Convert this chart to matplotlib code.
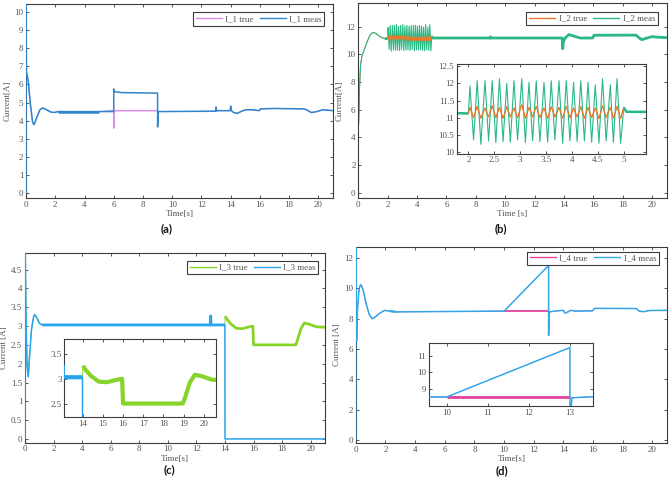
import numpy as np
import matplotlib
matplotlib.use('Agg')
import matplotlib.pyplot as plt
from matplotlib.ticker import FuncFormatter
from matplotlib.lines import Line2D

plt.rcParams['font.family'] = ['Liberation Serif', 'DejaVu Serif']

# ---------------- data ----------------
# (a) I_1
t_a_meas = [0, 0, 0.03, 0.15, 0.3, 0.45, 0.55, 0.75, 0.95, 1.15, 1.4, 1.7, 1.95, 2.2, 5.0,
            6.0, 6.0, 6.05, 6.5, 8.99, 9.0, 9.0, 9.05, 12.98, 13.0, 13.03, 13.97, 14.0, 14.05,
            14.2, 14.45, 14.7, 15.0, 15.5, 15.95, 16.05, 17.0, 19.0, 19.2, 19.5, 19.8, 20.3, 21.0]
v_a_meas = [0, 10.5, 6.7, 6.2, 4.9, 3.9, 3.78, 4.2, 4.6, 4.7, 4.6, 4.47, 4.45, 4.5, 4.5,
            4.5, 5.75, 5.6, 5.55, 5.52, 5.52, 3.65, 4.5, 4.52, 4.75, 4.55, 4.55, 4.8, 4.55,
            4.45, 4.4, 4.5, 4.6, 4.6, 4.55, 4.65, 4.67, 4.65, 4.6, 4.45, 4.48, 4.6, 4.55]
t_a_true = [0, 0, 0.03, 0.15, 0.3, 0.45, 0.55, 0.75, 0.95, 1.15, 1.4, 1.7, 1.95, 2.2, 5.0,
            6.0, 6.0, 6.0, 6.05, 8.99, 9.0, 9.05, 12.98, 13.0, 13.03, 13.97, 14.0, 14.05,
            14.2, 14.45, 14.7, 15.0, 15.5, 15.95, 16.05, 17.0, 19.0, 19.2, 19.5, 19.8, 20.3, 21.0]
v_a_true = [0, 10.5, 6.7, 6.2, 4.9, 3.9, 3.78, 4.2, 4.6, 4.7, 4.6, 4.47, 4.45, 4.5, 4.5,
            4.58, 3.6, 4.58, 4.55, 4.55, 4.5, 4.5, 4.52, 4.75, 4.55, 4.55, 4.8, 4.55,
            4.45, 4.4, 4.5, 4.6, 4.6, 4.55, 4.65, 4.67, 4.65, 4.6, 4.45, 4.48, 4.6, 4.55]

# (b) I_2
t_b_pre = [0, 0, 0.02, 0.08, 0.15, 0.25, 0.4, 0.6, 0.8, 1.0, 1.2, 1.5, 1.8, 2.0]
v_b_pre = [0, 13.8, 5.0, 7.5, 9.2, 9.9, 10.3, 10.9, 11.4, 11.58, 11.5, 11.25, 11.13, 11.12]
t_b_peaks = [2.03, 2.17, 2.32, 2.46, 2.60, 2.74, 2.88, 3.03, 3.17, 3.31, 3.46, 3.60, 3.75,
             3.89, 4.03, 4.17, 4.31, 4.45, 4.59, 4.74, 4.87]
t_b_troughs = [2.10, 2.24, 2.39, 2.53, 2.67, 2.81, 2.95, 3.10, 3.24, 3.38, 3.53, 3.67, 3.82,
               3.96, 4.10, 4.24, 4.38, 4.52, 4.66, 4.80, 4.94]
meas_b_peaks = [11.93, 12.08, 12.08, 12.08, 12.14, 12.0, 12.08, 12.14, 12.03, 12.08, 12.03,
                12.08, 12.08, 12.08, 12.03, 12.08, 12.03, 11.96, 12.14, 11.96, 12.14]
meas_b_troughs = [10.35, 10.22, 10.32, 10.27, 10.3, 10.28, 10.35, 10.27, 10.32, 10.3, 10.28,
                  10.35, 10.25, 10.32, 10.3, 10.32, 10.28, 10.25, 10.32, 10.28, 10.25]
true_b_peaks = [11.3, 11.33, 11.28, 11.35, 11.3, 11.32, 11.28, 11.38, 11.3, 11.33, 11.28,
                11.32, 11.3, 11.33, 11.28, 11.32, 11.3, 11.28, 11.35, 11.3, 11.33]
true_b_troughs = [11.0, 10.98, 11.02, 11.0, 10.98, 11.02, 11.0, 10.98, 11.02, 11.0, 10.98,
                  11.02, 10.98, 11.0, 11.02, 10.98, 11.0, 10.97, 11.0, 10.98, 10.97]
t_b_post = [5.0, 5.05, 8.98, 9.0, 9.02, 13.88, 13.92, 13.96, 14.1, 14.35, 14.7, 15.1, 15.95,
            16.05, 18.9, 19.1, 19.3, 19.6, 20.0, 20.5, 21.0]
v_b_post = [11.3, 11.17, 11.17, 11.25, 11.17, 11.17, 10.4, 10.9, 11.2, 11.42, 11.3, 11.17,
            11.17, 11.37, 11.38, 11.2, 11.05, 11.15, 11.27, 11.22, 11.2]

# (c) I_3
t_c_meas = [0, 0, 0.02, 0.08, 0.15, 0.23, 0.3, 0.45, 0.6, 0.68, 0.85, 1.0, 1.2, 1.5, 12.98,
            13.0, 13.02, 13.99, 14.0, 21.0]
v_c_meas = [0, 5.0, 4.9, 3.0, 1.9, 1.65, 2.1, 2.9, 3.25, 3.31, 3.2, 3.08, 3.03, 3.03, 3.03,
            3.27, 3.03, 3.03, 0, 0]
t_c_true = [0, 0, 0.02, 0.08, 0.15, 0.23, 0.3, 0.45, 0.6, 0.68, 0.85, 1.0, 1.2, 1.5, 13.99,
            14.02, 14.1, 14.4, 14.8, 15.2, 15.6, 15.95, 16.0, 18.95, 19.05, 19.3, 19.55, 19.9,
            20.4, 21.0]
v_c_true = [0, 5.0, 4.9, 3.0, 1.9, 1.65, 2.1, 2.9, 3.25, 3.31, 3.2, 3.08, 3.03, 3.03, 3.03,
            3.26, 3.2, 3.06, 2.94, 2.93, 2.97, 3.0, 2.5, 2.5, 2.6, 2.92, 3.08, 3.05, 2.98, 2.97]

# (d) I_4
t_d_meas = [0, 0, 0.06, 0.12, 0.2, 0.28, 0.36, 0.5, 0.7, 0.9, 1.1, 1.3, 1.6, 1.95, 2.3, 2.7,
            10.0, 12.99, 13.0, 13.0, 13.05, 13.6, 14.0, 14.1, 14.25, 14.5, 14.8, 15.95, 16.1,
            18.9, 19.1, 19.4, 19.8, 21.0]
v_d_meas = [0, 12.8, 6.5, 8.6, 9.7, 10.15, 10.24, 9.9, 9.0, 8.3, 8.0, 8.1, 8.35, 8.55, 8.5,
            8.45, 8.5, 11.5, 11.5, 6.9, 8.45, 8.52, 8.55, 8.37, 8.42, 8.55, 8.5, 8.52, 8.68,
            8.67, 8.5, 8.46, 8.54, 8.55]
t_d_true = [0, 0, 0.06, 0.12, 0.2, 0.28, 0.36, 0.5, 0.7, 0.9, 1.1, 1.3, 1.6, 1.95, 2.3, 2.7,
            10.0, 13.0, 13.05, 13.6, 14.0, 14.1, 14.25, 14.5, 14.8, 15.95, 16.1,
            18.9, 19.1, 19.4, 19.8, 21.0]
v_d_true = [0, 12.8, 6.5, 8.6, 9.7, 10.15, 10.24, 9.9, 9.0, 8.3, 8.0, 8.1, 8.35, 8.55, 8.5,
            8.45, 8.5, 8.5, 8.45, 8.52, 8.55, 8.37, 8.42, 8.55, 8.5, 8.52, 8.68,
            8.67, 8.5, 8.46, 8.54, 8.55]

x_ticks_main = [0, 2, 4, 6, 8, 10, 12, 14, 16, 18, 20]

# ---------------- helpers ----------------
FRAME = '#3c3c3c'
TXT = '#555555'
fmt = FuncFormatter(lambda v, p: f'{v:g}')


def style_axes(ax, xlim, ylim, xticks, yticks, fs=6.5):
    ax.set_xlim(xlim)
    ax.set_ylim(ylim)
    ax.set_xticks(xticks)
    ax.set_yticks(yticks)
    ax.xaxis.set_major_formatter(fmt)
    ax.yaxis.set_major_formatter(fmt)
    ax.tick_params(direction='in', top=True, right=True, length=2.5, width=0.6,
                   colors=FRAME, labelcolor=TXT, labelsize=fs, pad=2)
    for s in ax.spines.values():
        s.set_color(FRAME)
        s.set_linewidth(0.8)


def draw(ax, t, v, color, lw, thick=(), zorder=2):
    t = np.asarray(t, float)
    v = np.asarray(v, float)
    ax.plot(t, v, color=color, lw=lw, zorder=zorder)
    for (a, b, w) in thick:
        m = (t >= a) & (t <= b)
        ax.plot(t[m], v[m], color=color, lw=w, zorder=zorder, solid_capstyle='butt')


def legend(ax, c_true, c_meas, lab_true, lab_meas, anchor):
    h = [Line2D([], [], color=c_true, lw=1.0), Line2D([], [], color=c_meas, lw=1.0)]
    lg = ax.legend(h, [lab_true, lab_meas], loc='upper right', bbox_to_anchor=anchor,
                   ncol=2, fontsize=6.5, frameon=True, fancybox=False, edgecolor=FRAME,
                   framealpha=1, borderaxespad=0, handlelength=2.9, handletextpad=0.35,
                   columnspacing=0.7, borderpad=0.3)
    lg.get_frame().set_linewidth(0.8)
    for tx in lg.get_texts():
        tx.set_color(TXT)


def interleave(t0, v0, tp, vp, tt, vt):
    t = [t0]
    v = [v0]
    for a, b, c, d in zip(tp, vp, tt, vt):
        t += [a, c]
        v += [b, d]
    return t, v


fig = plt.figure(figsize=(6.69, 4.80), dpi=100)

# ---------------- (a) ----------------
ca_true, ca_meas = '#d98ce6', '#2f86cc'
ax = fig.add_axes([0.0389, 0.5875, 0.4589, 0.4042])
draw(ax, t_a_true, v_a_true, ca_true, 0.7, thick=[(6.0, 9.0, 1.0)], zorder=2)
draw(ax, t_a_meas, v_a_meas, ca_meas, 1.1, thick=[(2.2, 5.0, 1.8)], zorder=3)
style_axes(ax, (0, 21), (-0.28, 10.45), x_ticks_main, list(range(0, 11)))
ax.set_xlabel('Time[s]', fontsize=6.5, color=TXT, labelpad=1)
ax.set_ylabel('Current[A]', fontsize=6.5, color=TXT, labelpad=2)
legend(ax, ca_true, ca_meas, 'I_1 true', 'I_1 meas', (0.972, 0.957))

# ---------------- (b) ----------------
cb_true, cb_meas = '#f0782a', '#2ab883'
t_osc, vm_osc = interleave(2.0, 11.12, t_b_peaks, meas_b_peaks, t_b_troughs, meas_b_troughs)
_, vt_osc = interleave(2.0, 11.12, t_b_peaks, true_b_peaks, t_b_troughs, true_b_troughs)
t_b = t_b_pre[:-1] + t_osc + t_b_post
v_b_meas = v_b_pre[:-1] + vm_osc + v_b_post
v_b_true = v_b_pre[:-1] + vt_osc + v_b_post
tb = np.asarray(t_b)
osc_mask = (tb >= 2.0) & (tb <= 5.0)


def draw_b(ax, lw_osc, band_lw):
    draw(ax, t_b, v_b_true, cb_true, 0.6, zorder=1)
    draw(ax, t_b, v_b_meas, cb_meas, lw_osc,
         thick=[(1.8, 2.0, band_lw), (5.0, 21.0, band_lw)], zorder=2)
    ax.plot(tb[osc_mask], np.asarray(v_b_true)[osc_mask], color=cb_true, lw=0.8, zorder=3)


ax = fig.add_axes([0.5356, 0.5875, 0.4610, 0.4063])
draw_b(ax, 0.8, 2.0)
style_axes(ax, (0, 21), (-0.38, 13.7), x_ticks_main, [0, 2, 4, 6, 8, 10, 12])
ax.set_xlabel('Time [s]', fontsize=6.5, color=TXT, labelpad=1)
ax.set_ylabel('Current[A]', fontsize=6.5, color=TXT, labelpad=2)
legend(ax, cb_true, cb_meas, 'I_2 true', 'I_2 meas', (0.971, 0.955))

axi = fig.add_axes([0.6831, 0.6802, 0.2818, 0.1865])
draw_b(axi, 0.8, 1.8)
style_axes(axi, (1.78, 5.42), (9.95, 12.57), [2, 2.5, 3, 3.5, 4, 4.5, 5],
           [10, 10.5, 11, 11.5, 12, 12.5])

# ---------------- (c) ----------------
cc_true, cc_meas = '#86d42a', '#27a4ec'


def draw_c(ax, band_lw):
    draw(ax, t_c_true, v_c_true, cc_true, 0.7, thick=[(14.0, 21.0, band_lw)], zorder=2)
    draw(ax, t_c_meas, v_c_meas, cc_meas, 1.1, thick=[(1.2, 13.99, band_lw)], zorder=3)


ax = fig.add_axes([0.0374, 0.0777, 0.4484, 0.3958])
draw_c(ax, 2.0)
style_axes(ax, (0, 21), (-0.1, 4.95), x_ticks_main,
           [0, 0.5, 1, 1.5, 2, 2.5, 3, 3.5, 4, 4.5])
ax.set_xlabel('Time[s]', fontsize=6.5, color=TXT, labelpad=1)
ax.set_ylabel('Current [A]', fontsize=6.5, color=TXT, labelpad=2)
legend(ax, cc_true, cc_meas, 'I_3 true', 'I_3 meas', (0.978, 0.958))

axi = fig.add_axes([0.0964, 0.1313, 0.2265, 0.1625])
draw_c(axi, 3.0)
style_axes(axi, (13.1, 20.6), (2.23, 3.8), [14, 15, 16, 17, 18, 19, 20], [2.5, 3, 3.5])

# ---------------- (d) ----------------
cd_true, cd_meas = '#e2459b', '#34a6e8'


def draw_d(ax, lw_true):
    draw(ax, t_d_true, v_d_true, cd_true, 0.6, thick=[(10.0, 13.0, lw_true)], zorder=2)
    draw(ax, t_d_meas, v_d_meas, cd_meas, 1.1, thick=[(2.3, 5.0, 1.6)], zorder=3)


ax = fig.add_axes([0.5317, 0.0765, 0.4658, 0.4096])
draw_d(ax, 1.2)
style_axes(ax, (0, 21), (-0.22, 12.75), x_ticks_main, [0, 2, 4, 6, 8, 10, 12])
ax.set_xlabel('Time[s]', fontsize=6.5, color=TXT, labelpad=1)
ax.set_ylabel('Current [A]', fontsize=6.5, color=TXT, labelpad=2)
legend(ax, cd_true, cd_meas, 'I_4 true', 'I_4 meas', (0.973, 0.975))

axi = fig.add_axes([0.6413, 0.1542, 0.2456, 0.1306])
draw_d(axi, 2.0)
style_axes(axi, (9.57, 13.57), (7.95, 11.77), [10, 11, 12, 13], [9, 10, 11])

# ---------------- panel letters ----------------
for x, y, s in [(0.2496, 0.523, '(a)'), (0.749, 0.523, '(b)'),
                (0.254, 0.021, '(c)'), (0.751, 0.019, '(d)')]:
    fig.text(x, y, s, ha='center', va='center', fontsize=8, fontweight='bold',
             family=['Lato', 'DejaVu Sans'], color='#111111')

fig.savefig('out.png', dpi=100)
